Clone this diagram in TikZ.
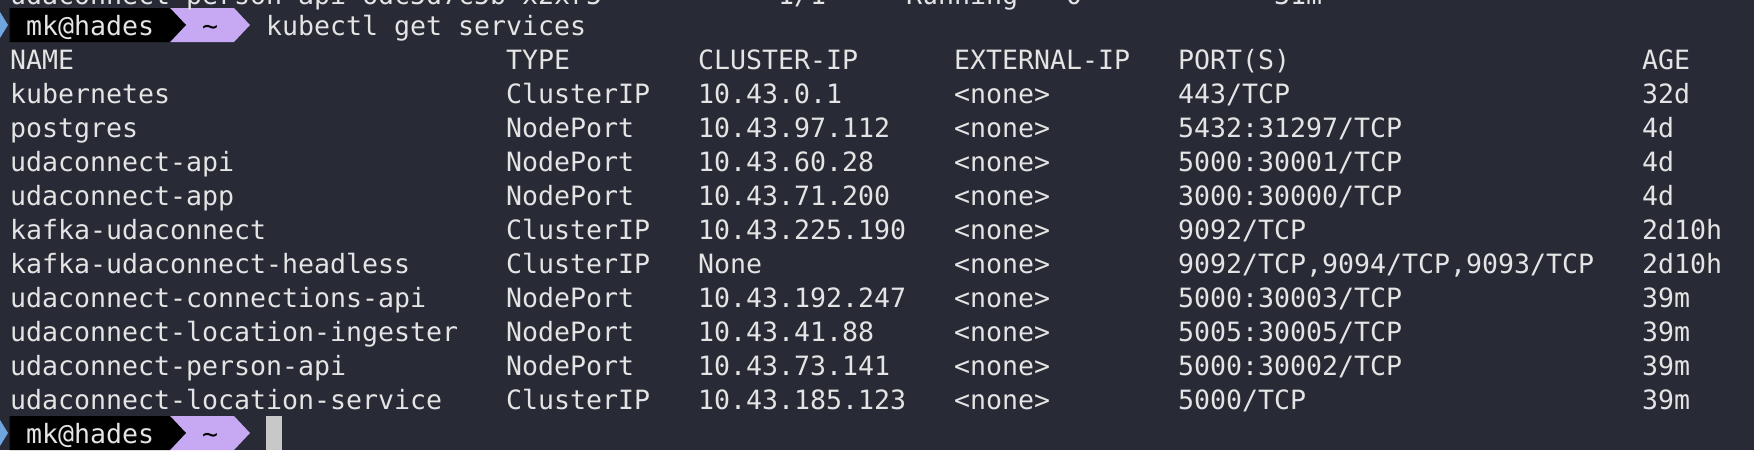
\documentclass[tikz,border=0pt]{standalone}
\usepackage{fontspec}
\newfontfamily\termfont{DejaVu Sans Mono}
\definecolor{termbg}{HTML}{282A36}
\definecolor{termfg}{HTML}{E4E4E4}
\definecolor{lavender}{HTML}{C6A9F2}
\definecolor{marker}{HTML}{6FA6E0}
\definecolor{cursorgray}{HTML}{C8C8C8}
\newlength\colw
\setlength\colw{16pt}
\newcommand\svcrow[6]{\makebox[31\colw][l]{#1}\makebox[12\colw][l]{#2}\makebox[16\colw][l]{#3}\makebox[14\colw][l]{#4}\makebox[29\colw][l]{#5}#6}
\begin{document}
\begin{tikzpicture}[x=1pt, y=-1pt, term/.style={text=termfg, inner sep=0pt, anchor=base west, font=\termfont\fontsize{26.58}{34}\selectfont}, tilde/.style={term, text=black, anchor=base}]
	\useasboundingbox (0,0) rectangle (1754,450);
	\clip (0,0) rectangle (1754,450);
	\fill[termbg] (0,0) rectangle (1754,450);
	% prompt
	\fill[marker] (0,12) -- (8,25) -- (0,38) -- cycle;
	\fill[lavender] (170,8) -- (234,8) -- (250,25) -- (234,42) -- (170,42) -- cycle;
	\fill[black] (9.5,8) -- (170,8) -- (186,25) -- (170,42) -- (9.5,42) -- cycle;
	\node[term] (user) at (26,35) {mk@hades};
	\node[tilde] (home) at (210,35) {\textasciitilde};
	\node[term] (cmd) at (266,35) {kubectl get services};
	\node[term] (top) at (10,4.5) {\makebox[48\colw][l]{udaconnect-person-api-6dc5d7c5b-x2xr5}\makebox[8\colw][l]{1/1}\makebox[10\colw][l]{Running}\makebox[13\colw][l]{0}31m};
	\node[term] (head) at (10,69) {\svcrow{NAME}{TYPE}{CLUSTER-IP}{EXTERNAL-IP}{PORT(S)}{AGE}};
	\node[term] (r1) at (10,103) {\svcrow{kubernetes}{ClusterIP}{10.43.0.1}{<none>}{443/TCP}{32d}};
	\node[term] (r2) at (10,137) {\svcrow{postgres}{NodePort}{10.43.97.112}{<none>}{5432:31297/TCP}{4d}};
	\node[term] (r3) at (10,171) {\svcrow{udaconnect-api}{NodePort}{10.43.60.28}{<none>}{5000:30001/TCP}{4d}};
	\node[term] (r4) at (10,205) {\svcrow{udaconnect-app}{NodePort}{10.43.71.200}{<none>}{3000:30000/TCP}{4d}};
	\node[term] (r5) at (10,239) {\svcrow{kafka-udaconnect}{ClusterIP}{10.43.225.190}{<none>}{9092/TCP}{2d10h}};
	\node[term] (r6) at (10,273) {\svcrow{kafka-udaconnect-headless}{ClusterIP}{None}{<none>}{9092/TCP,9094/TCP,9093/TCP}{2d10h}};
	\node[term] (r7) at (10,307) {\svcrow{udaconnect-connections-api}{NodePort}{10.43.192.247}{<none>}{5000:30003/TCP}{39m}};
	\node[term] (r8) at (10,341) {\svcrow{udaconnect-location-ingester}{NodePort}{10.43.41.88}{<none>}{5005:30005/TCP}{39m}};
	\node[term] (r9) at (10,375) {\svcrow{udaconnect-person-api}{NodePort}{10.43.73.141}{<none>}{5000:30002/TCP}{39m}};
	\node[term] (r10) at (10,409) {\svcrow{udaconnect-location-service}{ClusterIP}{10.43.185.123}{<none>}{5000/TCP}{39m}};
	% second prompt
	\fill[marker] (0,420) -- (8,433) -- (0,446) -- cycle;
	\fill[lavender] (170,416) -- (234,416) -- (250,433) -- (234,450) -- (170,450) -- cycle;
	\fill[black] (9.5,416) -- (170,416) -- (186,433) -- (170,450) -- (9.5,450) -- cycle;
	\node[term] (user2) at (26,443) {mk@hades};
	\node[tilde] (home2) at (210,443) {\textasciitilde};
	\fill[cursorgray] (266,416) rectangle (282,450);
\end{tikzpicture}
\end{document}
